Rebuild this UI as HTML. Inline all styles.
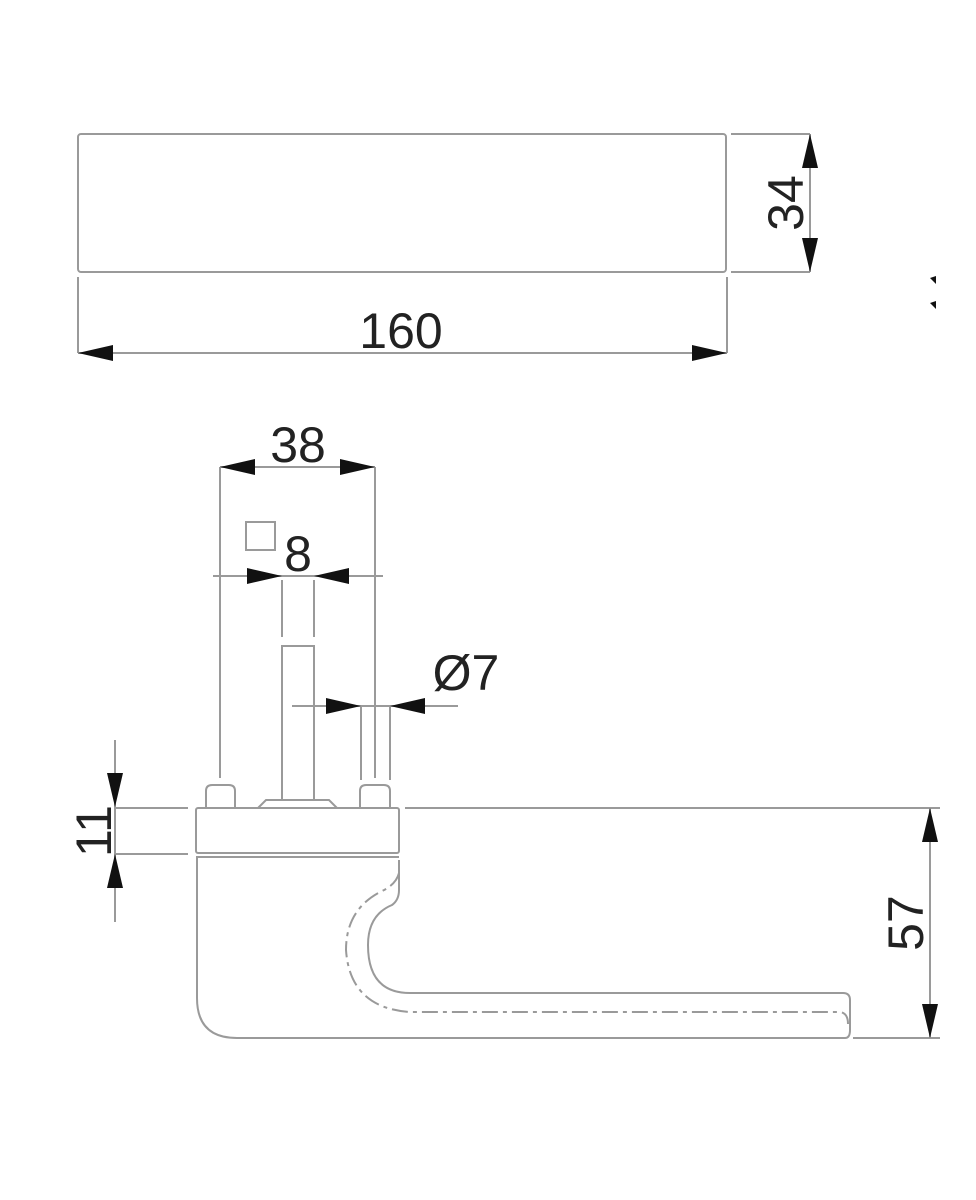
<!DOCTYPE html>
<html><head><meta charset="utf-8"><style>html,body{margin:0;padding:0;background:#fff}svg{display:block}</style></head>
<body>
<svg width="976" height="1200" viewBox="0 0 976 1200" xmlns="http://www.w3.org/2000/svg">
<g fill="none" stroke="#9a9a9a" stroke-width="2">
<!-- top view -->
<rect x="78" y="134" width="648" height="138" rx="3"/>
<line x1="78" y1="277" x2="78" y2="353"/>
<line x1="727" y1="277" x2="727" y2="353"/>
<line x1="78" y1="353" x2="727" y2="353"/>
<line x1="731" y1="134" x2="810" y2="134"/>
<line x1="731" y1="272" x2="810" y2="272"/>
<line x1="810" y1="134" x2="810" y2="272"/>
<!-- 38 -->
<line x1="220" y1="467" x2="375" y2="467"/>
<line x1="220" y1="467" x2="220" y2="778"/>
<line x1="375" y1="467" x2="375" y2="778"/>
<!-- 8 -->
<line x1="213" y1="576" x2="383" y2="576"/>
<line x1="282" y1="580" x2="282" y2="637"/>
<line x1="314" y1="580" x2="314" y2="637"/>
<rect x="246" y="522" width="29" height="28"/>
<!-- spindle -->
<rect x="282" y="646" width="32" height="154"/>
<!-- Ø7 -->
<line x1="292" y1="706" x2="458" y2="706"/>
<line x1="361" y1="706" x2="361" y2="780"/>
<line x1="390" y1="706" x2="390" y2="780"/>
<!-- pins -->
<path d="M206 808 V791 Q206 785 212 785 H229 Q235 785 235 791 V808"/>
<path d="M360 808 V791 Q360 785 366 785 H384 Q390 785 390 791 V808"/>
<path d="M258 808 L266 800 H329 L337 808"/>
<!-- rose -->
<rect x="196" y="808" width="203" height="45" rx="2"/>
<line x1="196" y1="857" x2="399" y2="857"/>
<!-- 11 -->
<line x1="115" y1="740" x2="115" y2="922"/>
<line x1="115" y1="808" x2="188" y2="808"/>
<line x1="115" y1="854" x2="188" y2="854"/>
<!-- body -->
<path d="M197 857 V998 Q197 1038 237 1038 H845 Q850 1038 850 1030 V1000 Q850 993 843 993 H410 Q368 993 368 945 Q368 915 392 905 Q399 900 399 890 V860"/>
<path d="M399 873 Q396 885 380 892 Q346 910 346 950 Q350 1008 410 1012 H840 Q848 1013 848 1024" stroke-dasharray="16 5 4 5"/>
<!-- 57 -->
<line x1="405" y1="808" x2="940" y2="808"/>
<line x1="853" y1="1038" x2="940" y2="1038"/>
<line x1="930" y1="808" x2="930" y2="1038"/>
</g>
<g fill="#111">
<polygon points="78,353 113,345 113,361"/>
<polygon points="727,353 692,345 692,361"/>
<polygon points="810,134 802,168 818,168"/>
<polygon points="810,272 802,238 818,238"/>
<polygon points="220,467 255,459 255,475"/>
<polygon points="375,467 340,459 340,475"/>
<polygon points="282,576 247,568 247,584"/>
<polygon points="314,576 349,568 349,584"/>
<polygon points="361,706 326,698 326,714"/>
<polygon points="390,706 425,698 425,714"/>
<polygon points="115,807 107,773 123,773"/>
<polygon points="115,854 107,888 123,888"/>
<polygon points="930,808 922,842 938,842"/>
<polygon points="930,1038 922,1004 938,1004"/>
<polygon points="930,278 936,276 936,284"/>
<polygon points="930,303 936,301 936,309"/>
</g>
<g font-family="'Liberation Sans', sans-serif" font-size="50" fill="#222" text-anchor="middle">
<text x="401" y="348">160</text>
<text x="298" y="462">38</text>
<text x="298" y="571">8</text>
<text x="466" y="690">Ø7</text>
<text transform="translate(803,203) rotate(-90)">34</text>
<text transform="translate(111,831) rotate(-90)">11</text>
<text transform="translate(923,923) rotate(-90)">57</text>
</g>
</svg>
</body></html>
